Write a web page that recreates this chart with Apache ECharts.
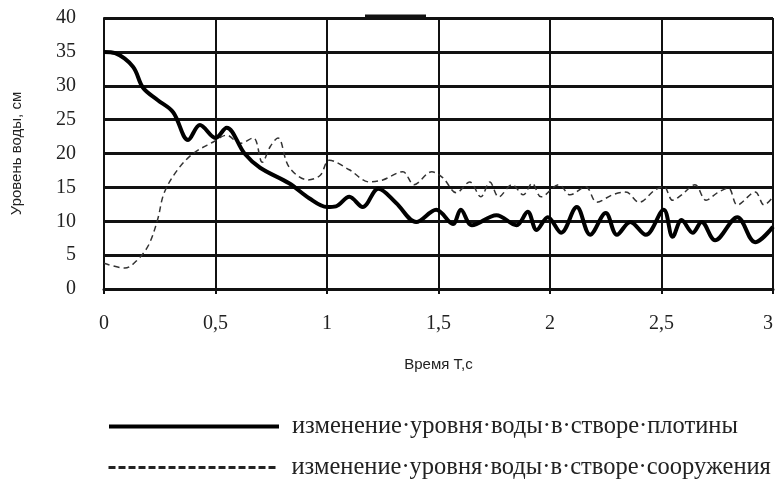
<!DOCTYPE html>
<html>
<head>
  <meta charset="UTF-8">
  <title>Уровень воды</title>
  <script src="https://cdn.jsdelivr.net/npm/echarts@6/dist/echarts.min.js"></script>
  <style>
    html, body { margin: 0; padding: 0; background: #fff; }
    #main { width: 776px; height: 479px; }
  </style>
</head>
<body>
  <div id="main"></div>
  <script type="text/javascript">
    // время, с и уровень воды в створе плотины, см
    var damTime = [0, 0.05, 0.13, 0.175, 0.24, 0.31, 0.377, 0.43, 0.5, 0.55, 0.63, 0.7, 0.83, 0.92, 1.0, 1.04,
      1.1, 1.16, 1.23, 1.31, 1.4, 1.49, 1.565, 1.6, 1.65, 1.76, 1.85, 1.9, 1.94, 1.99, 2.05, 2.12, 2.18,
      2.25, 2.3, 2.36, 2.43, 2.51, 2.55, 2.59, 2.64, 2.68, 2.74, 2.84, 2.92, 3.0];
    var damLevel = [35, 34.8, 32.8, 29.7, 27.9, 26.1, 22, 24.2, 22.3, 23.8, 20, 17.9, 15.6, 13.4, 12.1, 12.2,
      13.6, 12.1, 14.8, 12.7, 9.9, 11.7, 9.6, 11.7, 9.4, 10.9, 9.4, 11.4, 8.7, 10.6, 8.3, 12.1, 8.0,
      11.2, 8.0, 9.9, 8.0, 11.7, 7.7, 10.2, 8.3, 9.9, 7.2, 10.6, 6.9, 9.2];

    // время, с и уровень воды в створе сооружения, см
    var strTime = [0, 0.094, 0.15, 0.2, 0.24, 0.27, 0.33, 0.4, 0.49, 0.55, 0.61, 0.67, 0.71, 0.745, 0.78, 0.83,
      0.915, 0.97, 1.01, 1.1, 1.19, 1.25, 1.34, 1.39, 1.47, 1.52, 1.58, 1.64, 1.69, 1.73, 1.77, 1.83, 1.88,
      1.92, 1.96, 2.04, 2.09, 2.16, 2.21, 2.28, 2.34, 2.4, 2.47, 2.51, 2.55, 2.59, 2.65, 2.7, 2.75, 2.8,
      2.84, 2.92, 2.96, 3.0];
    var strLevel = [3.8, 3.1, 4.3, 6.5, 10.2, 14.2, 17.6, 20, 21.7, 22.7, 21.5, 22.3, 18.7, 21, 22.3, 18,
      16.1, 16.8, 19, 17.6, 15.8, 16.1, 17.3, 15.4, 17.3, 16.4, 14.2, 15.8, 13.6, 15.8, 13.6, 15.4, 13.9,
      15.6, 13.6, 15.4, 13.9, 15.1, 12.8, 13.9, 14.3, 12.8, 14.6, 15.1, 13.1, 13.9, 15.4, 13.1, 14.2, 14.9,
      12.4, 14.3, 12.4, 13.6];

    var xTicks = ['0', '0,5', '1', '1,5', '2', '2,5', '3'];

    var nameDam = 'изменение·уровня·воды·в·створе·плотины';
    var nameStr = 'изменение·уровня·воды·в·створе·сооружения';

    function pairs(xs, ys) {
      var out = [];
      for (var i = 0; i < xs.length; i++) out.push([xs[i], ys[i]]);
      return out;
    }

    var myChart = echarts.init(document.getElementById('main'));

    var serif = '"Liberation Serif", "DejaVu Serif", serif';
    var sans = '"Liberation Sans", Arial, sans-serif';

    function legendAt(top, name, lineStyle) {
      return {
        left: 107,
        top: top,
        itemWidth: 170,
        itemHeight: 14,
        padding: 0,
        itemStyle: { opacity: 0 },
        lineStyle: lineStyle,
        textStyle: { fontFamily: serif, fontSize: 24.5, color: '#222', padding: [0, 0, 0, 8] },
        data: [name]
      };
    }

    var option = {
      animation: false,
      backgroundColor: '#fff',
      grid: { left: 104, right: 3, top: 18, bottom: 190, outerBoundsMode: 'none' },
      xAxis: {
        type: 'value',
        min: 0, max: 3, interval: 0.5,
        name: 'Время Т,с',
        nameLocation: 'middle',
        nameGap: 68,
        nameTextStyle: { fontFamily: sans, fontSize: 15, color: '#222' },
        axisLine: { show: true, lineStyle: { color: '#111', width: 3 } },
        axisTick: { show: true, length: 5, lineStyle: { color: '#111', width: 2 } },
        axisLabel: {
          margin: 25, fontFamily: serif, fontSize: 20, color: '#222', alignMaxLabel: 'right',
          formatter: function (v) { return xTicks[Math.round(v * 2)]; }
        },
        splitLine: { show: true, lineStyle: { color: '#111', width: 2 } }
      },
      yAxis: {
        type: 'value',
        min: 0, max: 40, interval: 5,
        name: 'Уровень воды, см',
        nameLocation: 'middle',
        nameGap: 80,
        nameRotate: 90,
        nameTextStyle: { fontFamily: sans, fontSize: 15, color: '#222' },
        axisLine: { show: true, lineStyle: { color: '#111', width: 2 } },
        axisTick: { show: false },
        axisLabel: { margin: 28, fontFamily: serif, fontSize: 20, color: '#222' },
        splitLine: { show: true, lineStyle: { color: '#111', width: 3 } }
      },
      legend: [
        legendAt(414, nameDam, { color: '#000', width: 4, type: 'solid' }),
        legendAt(455, nameStr, { color: '#222', width: 3, type: [7, 3] })
      ],
      graphic: [{
        type: 'line',
        shape: { x1: 365, y1: 16, x2: 426, y2: 16 },
        style: { stroke: '#111', lineWidth: 3 }
      }],
      series: [
        {
          name: nameDam,
          type: 'line',
          smooth: 0.35,
          symbol: 'none',
          lineStyle: { color: '#000', width: 4 },
          itemStyle: { color: '#000' },
          data: pairs(damTime, damLevel),
          z: 3
        },
        {
          name: nameStr,
          type: 'line',
          smooth: 0.35,
          symbol: 'none',
          lineStyle: { color: '#333', width: 1.5, type: [6, 4] },
          itemStyle: { color: '#333' },
          data: pairs(strTime, strLevel),
          z: 2
        }
      ]
    };

    myChart.setOption(option);
  </script>
</body>
</html>
